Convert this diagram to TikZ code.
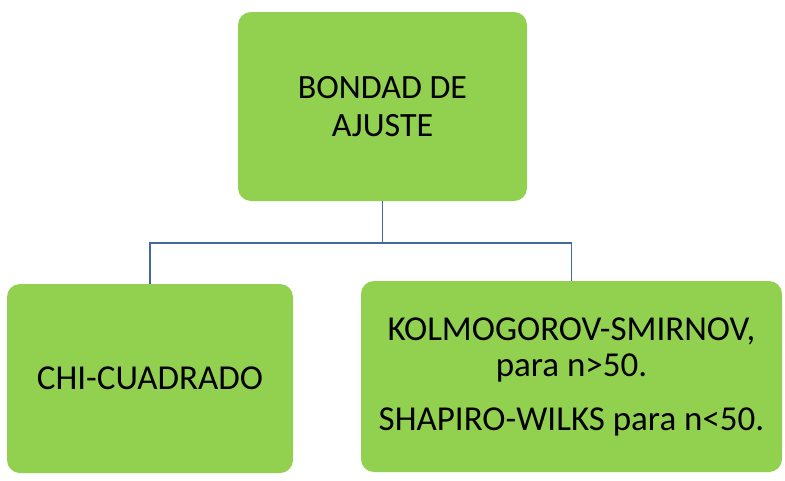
\documentclass[tikz,border=0pt]{standalone}
\usepackage{fontspec}
\setmainfont{Carlito}
\definecolor{boxgreen}{HTML}{92D050}
\definecolor{connblue}{HTML}{41699B}
\begin{document}
\begin{tikzpicture}[x=1pt,y=-1pt,
  gbox/.style={draw=none, fill=boxgreen, rounded corners=13pt, inner sep=0pt, align=center, text=black},
  conn/.style={draw=connblue, line width=1.4pt}]
\useasboundingbox[fill=white] (0,0) rectangle (785,480);
\node[gbox, minimum width=289pt, minimum height=189pt, font=\fontsize{34}{38}\selectfont] (top) at (382.5,106.5) {BONDAD DE\\AJUSTE};
\node[gbox, minimum width=286pt, minimum height=189pt, font=\fontsize{35}{38}\selectfont] (left) at (150,378.5) {CHI-CUADRADO};
\node[gbox, minimum width=421pt, minimum height=191pt] (right) at (571.5,376.5) {};
\node[inner sep=0pt, align=center, text depth=0pt, font=\fontsize{35}{36}\selectfont] (rtext) at (571.5,374) {KOLMOGOROV-SMIRNOV,\\para n>50.\\[18pt]SHAPIRO-WILKS para n<50.};
\coordinate (j) at (382.5,243);
\draw[conn] (top.south) -- (j);
\draw[conn] (left.north) |- (j) -| (right.north);
\end{tikzpicture}
\end{document}
